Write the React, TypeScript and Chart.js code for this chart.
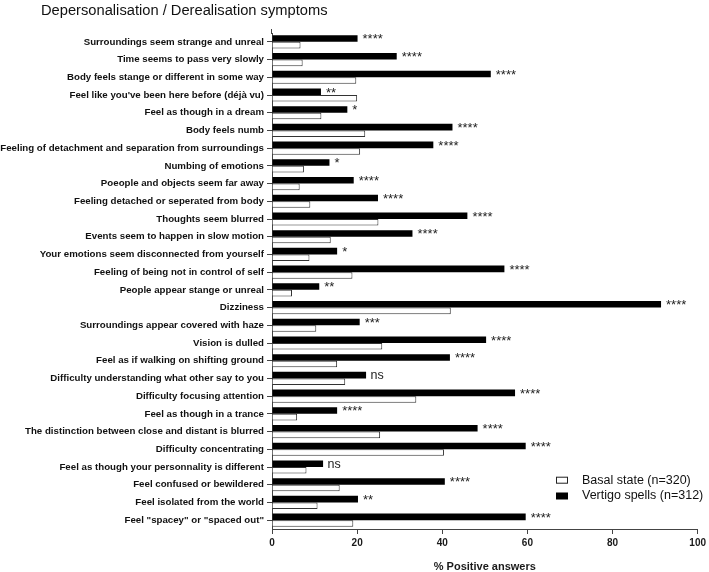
import React, { useEffect, useRef } from "react";
import { Chart, registerables } from "chart.js";

Chart.register(...registerables);

const TITLE = "Depersonalisation / Derealisation symptoms";
const X_TITLE = "% Positive answers";

const categories: string[] = [
  "Surroundings seem strange and unreal",
  "Time seems to pass very slowly",
  "Body feels stange or different in some way",
  "Feel like you've been here before (déjà vu)",
  "Feel as though in a dream",
  "Body feels numb",
  "Feeling of detachment and separation from surroundings",
  "Numbing of emotions",
  "Poeople and objects seem far away",
  "Feeling detached or seperated from body",
  "Thoughts seem blurred",
  "Events seem to happen in slow motion",
  "Your emotions seem disconnected from yourself",
  "Feeling of being not in control of self",
  "People appear stange or unreal",
  "Dizziness",
  "Surroundings appear covered with haze",
  "Vision is dulled",
  "Feel as if walking on shifting ground",
  "Difficulty understanding what other say to you",
  "Difficulty focusing attention",
  "Feel as though in a trance",
  "The distinction between close and distant is blurred",
  "Difficulty concentrating",
  "Feel as though your personnality is different",
  "Feel confused or bewildered",
  "Feel isolated from the world",
  "Feel \"spacey\" or \"spaced out\"",
];

const vertigoSpells: number[] = [
  20.1, 29.3, 51.4, 11.5, 17.7, 42.4, 37.9, 13.5, 19.2, 24.9, 45.9, 33.0, 15.3, 54.6,
  11.1, 91.4, 20.6, 50.3, 41.8, 22.1, 57.1, 15.3, 48.3, 59.6, 12.0, 40.6, 20.2, 59.6,
];

const basalState: number[] = [
  6.7, 7.2, 19.8, 20.0, 11.6, 21.9, 20.7, 7.5, 6.5, 9.0, 25.0, 13.8, 8.8, 18.9,
  4.7, 42.0, 10.4, 25.9, 15.3, 17.2, 33.9, 5.9, 25.4, 40.4, 8.1, 15.9, 10.7, 19.1,
];

const significance: string[] = [
  "****", "****", "****", "**", "*", "****", "****", "*", "****", "****", "****", "****", "*", "****",
  "**", "****", "***", "****", "****", "ns", "****", "****", "****", "****", "ns", "****", "**", "****",
];

const legendLabels: string[] = ["Basal state (n=320)", "Vertigo spells (n=312)"];

const FONT = "'Liberation Sans', Arial, Helvetica, sans-serif";

const decorPlugin = {
  id: "decor",
  afterDraw(chart: any) {
    const ctx = chart.ctx;
    const area = chart.chartArea;
    ctx.save();
    // title
    ctx.fillStyle = "#111";
    ctx.font = `14.7px ${FONT}`;
    ctx.textAlign = "left";
    ctx.textBaseline = "alphabetic";
    ctx.fillText(TITLE, 41, 14.5);

    // y axis extension at top
    ctx.strokeStyle = "#444";
    ctx.lineWidth = 1;
    ctx.beginPath();
    ctx.moveTo(Math.round(area.left) - 0.5, area.top - 4);
    ctx.lineTo(Math.round(area.left) - 0.5, area.top + 1);
    ctx.stroke();

    // significance annotations
    const meta = chart.getDatasetMeta(0);
    meta.data.forEach((el: any, i: number) => {
      const s = significance[i];
      if (!s) return;
      const base = el.y + el.height / 2 + 0.5;
      ctx.fillStyle = "#222";
      ctx.textAlign = "left";
      ctx.textBaseline = "alphabetic";
      if (s === "ns") {
        ctx.font = `12.5px ${FONT}`;
        ctx.fillText(s, el.x + 4.5, base);
      } else {
        ctx.font = `13px ${FONT}`;
        ctx.fillText(s, el.x + 5, base + 1);
      }
    });

    // legend
    const lx = 556;
    const ly = [480.2, 496];
    ctx.font = `12.5px ${FONT}`;
    ctx.textBaseline = "middle";
    ctx.textAlign = "left";
    // basal
    ctx.fillStyle = "#fff";
    ctx.fillRect(lx, ly[0] - 3.5, 12, 7);
    ctx.strokeStyle = "#222";
    ctx.strokeRect(lx + 0.5, ly[0] - 3.5 + 0.5, 11, 6);
    ctx.fillStyle = "#111";
    ctx.fillText(legendLabels[0], 582, ly[0]);
    // vertigo
    ctx.fillStyle = "#000";
    ctx.fillRect(lx, ly[1] - 3.5, 12, 7);
    ctx.fillStyle = "#111";
    ctx.fillText(legendLabels[1], 582, ly[1]);
    ctx.restore();
  },
};

export default function App() {
  const canvasRef = useRef<HTMLCanvasElement | null>(null);

  useEffect(() => {
    const canvas = canvasRef.current;
    if (!canvas) return;
    const chart = new Chart(canvas, {
      type: "bar",
      data: {
        labels: categories,
        datasets: [
          {
            label: legendLabels[1],
            data: vertigoSpells,
            backgroundColor: "#000",
            borderColor: "#000",
            borderWidth: 0,
            barPercentage: 1,
            categoryPercentage: 0.74,
          },
          {
            label: legendLabels[0],
            data: basalState,
            backgroundColor: "#fff",
            borderColor: "#333",
            borderWidth: 1,
            barPercentage: 1,
            categoryPercentage: 0.74,
          },
        ],
      },
      options: {
        indexAxis: "y",
        responsive: false,
        animation: false,
        devicePixelRatio: 1,
        layout: { padding: { top: 33, right: 10, bottom: 0, left: 0 } },
        plugins: {
          legend: { display: false },
          title: { display: false },
          tooltip: { enabled: false },
        },
        scales: {
          x: {
            type: "linear",
            min: 0,
            max: 100,
            ticks: {
              stepSize: 20,
              color: "#1a1a1a",
              font: { family: FONT, size: 10, weight: "bold" },
              padding: 3,
              maxRotation: 0,
            },
            grid: {
              drawOnChartArea: false,
              drawTicks: true,
              tickLength: 5,
              color: "#444",
            },
            border: { display: true, color: "#444", width: 1 },
            title: {
              display: true,
              text: X_TITLE,
              color: "#1a1a1a",
              font: { family: FONT, size: 11, weight: "bold", lineHeight: 1 },
              padding: { top: 0, bottom: 0 },
            },
            afterFit: (scale: any) => {
              scale.height = 43;
            },
          },
          y: {
            type: "category",
            ticks: {
              color: "#111",
              font: { family: FONT, size: 9.7, weight: "bold" },
              padding: 3,
              autoSkip: false,
            },
            grid: {
              offset: false,
              drawOnChartArea: false,
              drawTicks: true,
              tickLength: 5,
              color: "#444",
            },
            border: { display: true, color: "#444", width: 1 },
            afterFit: (scale: any) => {
              scale.width = 272;
            },
          },
        },
      },
      plugins: [decorPlugin],
    } as any);
    return () => chart.destroy();
  }, []);

  return (
    <div style={{ position: "fixed", left: 0, top: 0, width: 709, height: 572, background: "#fff" }}>
      <canvas ref={canvasRef} width={709} height={572} style={{ width: 709, height: 572 }} />
    </div>
  );
}
